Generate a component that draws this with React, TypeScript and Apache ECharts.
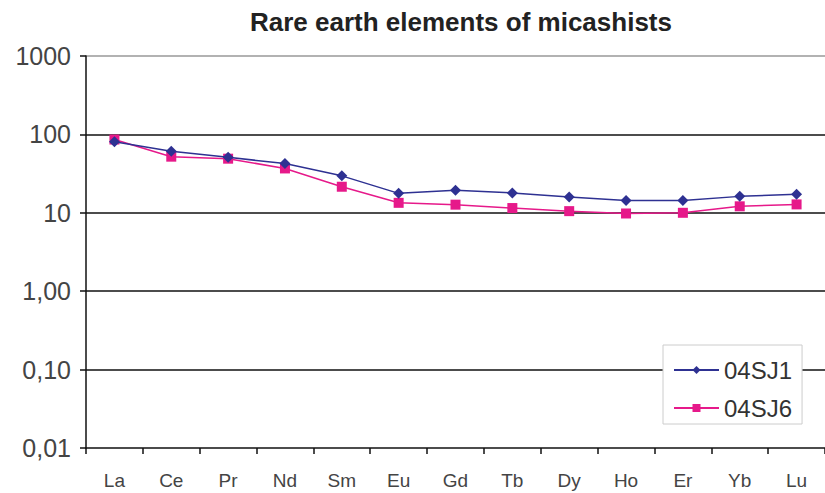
import React, { useEffect, useRef } from "react";
import * as echarts from "echarts";

const categories = ["La", "Ce", "Pr", "Nd", "Sm", "Eu", "Gd", "Tb", "Dy", "Ho", "Er", "Yb", "Lu"];
const sj1 = [80.5, 61, 51, 42.5, 29.6, 17.7, 19.4, 17.9, 15.9, 14.4, 14.4, 16.2, 17.2];
const sj6 = [86, 52, 49, 36.8, 21.5, 13.4, 12.7, 11.5, 10.5, 9.8, 10, 12.1, 12.8];
const seriesNames = ["04SJ1", "04SJ6"];
const titleText = "Rare earth elements of micashists";

function fmt(v: number): string {
  if (v >= 10) return String(Math.round(v));
  return v.toFixed(2).replace(".", ",");
}

const FONT = "Liberation Sans, Arial, sans-serif";

export default function App() {
  const ref = useRef<HTMLDivElement>(null);
  useEffect(() => {
    if (!ref.current) return;
    const chart = echarts.init(ref.current, undefined, { renderer: "svg" });
    chart.setOption({
      animation: false,
      backgroundColor: "#fff",
      title: {
        text: titleText,
        left: 456,
        textAlign: "center",
        top: 4,
        textStyle: { fontFamily: FONT, fontWeight: "bold", fontSize: 26, color: "#222" },
      },
      grid: { left: 86, right: -5, top: 56, bottom: 45, containLabel: false },
      legend: {
        orient: "vertical",
        left: 663,
        top: 345,
        backgroundColor: "#fff",
        borderColor: "#ccc",
        borderWidth: 1,
        padding: [13, 10, 4, 10],
        itemWidth: 45,
        itemHeight: 10,
        itemGap: 14,
        textStyle: { fontFamily: FONT, fontSize: 24, color: "#333" },
        data: seriesNames,
      },
      xAxis: {
        type: "category",
        data: categories,
        boundaryGap: true,
        axisLine: { lineStyle: { color: "#111", width: 1.5 } },
        axisTick: { show: true, length: 6, lineStyle: { color: "#111", width: 1.5 } },
        axisLabel: { fontFamily: FONT, fontSize: 19, color: "#444", margin: 23 },
        splitLine: { show: false },
      },
      yAxis: {
        type: "log",
        logBase: 10,
        min: 0.01,
        max: 1000,
        axisLine: { show: true, lineStyle: { color: "#111", width: 1.5 } },
        axisTick: { show: true, length: 6, lineStyle: { color: "#111", width: 1.5 } },
        axisLabel: {
          fontFamily: FONT,
          fontSize: 25,
          color: "#444",
          margin: 15,
          formatter: (v: number) => fmt(v),
        },
        splitLine: {
          show: true,
          showMinLine: false,
          lineStyle: { color: ["#111", "#111", "#111", "#111", "#999"], width: 1.5 },
        },
      },
      series: [
        {
          name: seriesNames[0],
          type: "line",
          data: sj1,
          symbol: "diamond",
          symbolSize: 11,
          lineStyle: { color: "#2e3192", width: 1.5 },
          itemStyle: { color: "#2e3192" },
          z: 3,
        },
        {
          name: seriesNames[1],
          type: "line",
          data: sj6,
          symbol: "rect",
          symbolSize: 10,
          lineStyle: { color: "#e6198a", width: 1.5 },
          itemStyle: { color: "#e6198a" },
          z: 2,
        },
      ],
    });
    return () => chart.dispose();
  }, []);
  return <div ref={ref} style={{ width: 825, height: 493, position: "absolute", left: 0, top: 0 }} />;
}
